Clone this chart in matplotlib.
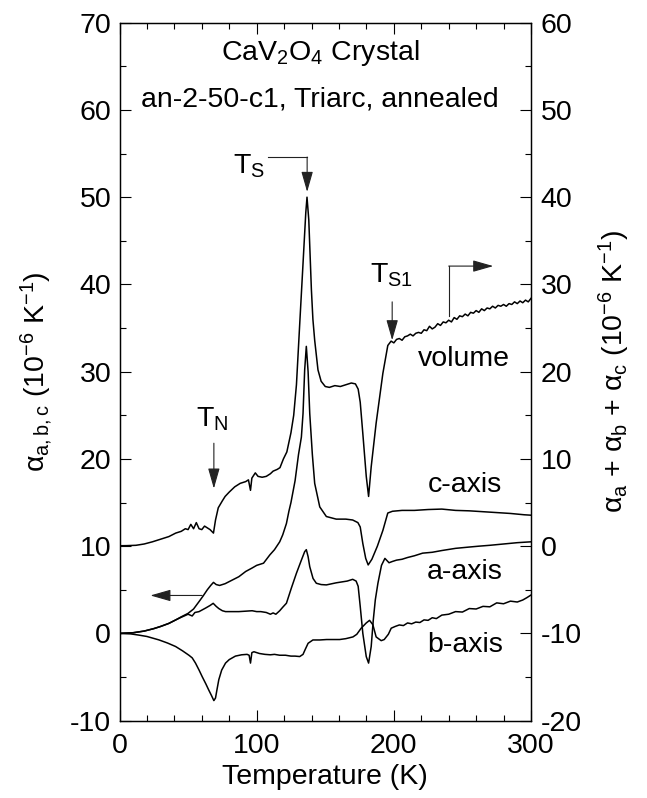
import matplotlib
matplotlib.use("Agg")
import matplotlib.pyplot as plt
from matplotlib.ticker import MultipleLocator

plt.rcParams['font.family'] = ['Liberation Sans', 'DejaVu Sans']
plt.rcParams['mathtext.fontset'] = 'custom'
plt.rcParams['mathtext.rm'] = 'Liberation Sans'
plt.rcParams['mathtext.it'] = 'Liberation Sans:italic'
plt.rcParams['mathtext.default'] = 'regular'
plt.rcParams['axes.unicode_minus'] = False

# ---------------- data ----------------
# volume: alpha_a + alpha_b + alpha_c, right axis units (1e-6 /K)
T_vol = [0, 5, 12, 18, 24, 30, 36, 41, 45, 48, 50, 52, 54, 56, 58, 60, 62, 64, 66, 68.5,
         70, 72, 75, 77, 80, 84, 88, 92, 94, 95.5, 96.5, 99, 101, 104, 107, 110, 112, 115, 117,
         119.5, 122, 125, 127, 129, 131.4, 133.8, 135.8, 136.7, 138, 139.9, 141, 142.3, 144.7,
         147, 150, 153, 157, 161, 165, 169, 172, 174, 175.5, 177.4, 179.9, 181.6, 183.5, 187.1,
         192, 195.6, 198, 200, 202, 204, 206, 208, 210, 212, 214, 216, 218, 220, 222, 224, 226,
         228, 230, 232, 234, 236, 238, 240, 242, 244, 246, 248, 250, 252, 254, 256, 258, 260,
         262, 264, 266, 268, 270, 272, 274, 276, 278, 280, 282, 284, 286, 288, 290, 292, 294,
         296, 298, 300]
vol = [0.05, 0.06, 0.1, 0.25, 0.5, 0.8, 1.1, 1.5, 1.7, 2.0, 1.9, 2.5, 2.0, 2.7, 2.0, 1.9, 2.3, 2.1, 1.9, 1.5,
       3.0, 4.4, 5.2, 5.7, 6.2, 6.8, 7.2, 7.4, 7.6, 6.4, 7.8, 8.4, 8.0, 7.9, 8.0, 8.3, 8.6, 8.8, 9.0,
       10.0, 10.8, 13.0, 15.0, 18.5, 25.5, 32.4, 38.2, 40.0, 37.4, 29.4, 26.0, 23.6, 20.2,
       18.9, 18.3, 18.2, 18.4, 18.3, 18.5, 18.7, 18.6, 18.0, 16.5, 12.9, 8.0, 5.7, 9.1, 14.1,
       19.8, 23.0, 23.5, 23.3, 23.7, 23.8, 23.6, 24.0, 24.1, 24.3, 24.1, 24.4, 24.5, 24.4, 24.8, 24.7, 25.2,
       24.9, 25.1, 25.5, 25.3, 25.7, 25.6, 25.9, 25.7, 26.2, 26.0, 26.4, 26.3, 26.6, 26.4, 26.8, 26.7, 27.0,
       26.8, 27.2, 27.0, 27.3, 27.2, 27.5, 27.3, 27.6, 27.5, 27.7, 27.5, 27.8, 27.7, 28.0, 27.8, 28.1, 27.9,
       28.2, 28.0, 28.4]

# c-axis (left axis)
T_c = [0, 10, 18, 25, 30, 36, 41, 45, 50, 54, 58, 61, 64, 66.5, 68.5, 70.5, 73, 77, 82, 87, 92,
       96.7, 100, 105, 109.6, 113, 116.8, 119, 121.7, 123.5, 125, 128, 130.5, 132.6, 133.8, 135,
       136.2, 137.5, 138.7, 140.6, 142.3, 146, 150.8, 158, 165, 170, 173.8, 175.5, 177.4, 179.5,
       181.3, 184, 188, 192, 195.6, 199, 206, 215, 225, 235, 245, 255, 265, 275, 285, 295, 300]
c_axis = [0, 0.08, 0.27, 0.55, 0.8, 1.15, 1.55, 1.9, 2.3, 2.8, 3.65, 4.3, 5.0, 5.5, 5.85, 5.6, 5.5, 5.7, 6.1, 6.5, 7.1,
          7.5, 7.8, 8.05, 9.0, 9.6, 10.5, 11.3, 12.6, 14.0, 15.0, 17.5, 20.5, 22.5, 25.2, 30.2,
          32.9, 30.0, 25.2, 20.5, 17.2, 14.5, 13.4, 13.1, 13.1, 13.0, 12.7, 12.2, 10.3, 8.6,
          7.85, 8.5, 10.0, 11.8, 13.8, 14.0, 14.1, 14.1, 14.2, 14.25, 14.1, 14.05, 13.95, 13.85, 13.75, 13.6, 13.55]

# a-axis (left axis)
T_a = [0, 10, 18, 25, 30, 36, 41, 45, 50, 53, 55, 58, 62.7, 66, 68.3, 70.5, 72.4, 75, 77.3, 82, 87,
       92, 96.7, 100, 103, 107, 110, 112, 114, 116.8, 119, 121.7, 125.3, 129, 132.6, 135, 136.2,
       137.5, 138.7, 141.1, 143.5, 147, 150.8, 155, 158, 162, 166, 170, 172.5, 174, 175.5, 177.4,
       179.9, 181.6, 183.5, 185, 186.5, 188.4, 191, 193.5, 196.5, 199, 202, 206, 210, 215, 221,
       228, 235, 245, 255, 262, 270, 280, 290, 300]
a_axis = [0, 0.08, 0.27, 0.55, 0.8, 1.15, 1.55, 1.85, 2.2, 2.0, 2.4, 2.5, 2.9, 3.2, 3.45, 3.1, 2.85, 2.6, 2.5, 2.5, 2.5,
          2.55, 2.6, 2.5, 2.5, 2.4, 2.2, 2.35, 2.2, 2.6, 3.0, 3.46, 5.2, 6.9, 8.4, 9.37, 9.6,
          8.8, 7.65, 6.3, 5.75, 5.6, 5.56, 5.7, 5.8, 5.9, 6.0, 6.2, 6.0, 5.4, 3.1, 0.0,
          -2.66, -3.4, -1.5, 1.5, 3.85, 5.75, 7.8, 8.6, 8.1, 8.25, 8.4, 8.5, 8.7, 8.9, 9.2,
          9.3, 9.5, 9.75, 9.9, 10.0, 10.1, 10.25, 10.4, 10.5]

# b-axis (left axis)
T_b = [0, 8, 14, 20, 28.7, 35, 40.9, 46, 50.6, 53, 55.4, 58, 60.3, 63, 65.1, 67, 68.8, 70, 71,
       72.4, 74.5, 77.3, 80, 84.5, 89, 93, 94.5, 95.5, 96.5, 98, 102, 106, 110, 113, 116.8, 121,
       125, 128, 131.4, 133.8, 135.5, 137.5, 141, 146, 151, 156, 160.5, 165, 170.2, 173, 176.2,
       179.9, 182.3, 184.7, 187.1, 190.8, 193, 196, 198.1, 201, 204, 207, 210, 213, 216, 219,
       222, 225, 228, 231, 235, 240, 245, 250, 255, 260, 265, 270, 275, 280, 285, 290, 294, 297, 300]
b_axis = [0, -0.05, -0.19, -0.35, -0.74, -1.1, -1.5, -2.0, -2.5, -2.8, -3.4, -4.2, -4.96, -5.8, -6.5, -7.1, -7.7, -7.4, -6.5,
          -5.3, -4.2, -3.4, -3.0, -2.6, -2.45, -2.4, -2.5, -3.4, -2.2, -2.1, -2.3, -2.4, -2.45, -2.4, -2.5, -2.5,
          -2.6, -2.6, -2.65, -2.4, -1.8, -1.13, -0.75, -0.75, -0.7, -0.7, -0.7, -0.6, -0.4, -0.1, 0.6,
          1.2, 1.5, 1.0, -0.4, -0.83, -0.7, -0.1, 0.6, 0.8, 0.97, 0.9, 1.2, 1.1, 1.3, 1.25,
          1.55, 1.5, 1.8, 1.7, 2.1, 2.2, 2.5, 2.45, 2.85, 2.8, 3.1, 3.05, 3.5, 3.4, 3.7, 3.6, 3.83, 4.1, 4.4]

xlim = (0, 300)
ylim_left = (-10, 70)
ylim_right = (-20, 60)

# ---------------- figure ----------------
fig = plt.figure(figsize=(6.47, 7.98), dpi=100)
ax = fig.add_axes([0.1847, 0.0969, 0.636, 0.8747])
ax2 = ax.twinx()

lw = 1.1
ax.plot(T_c, c_axis, color='k', lw=lw)
ax.plot(T_a, a_axis, color='k', lw=lw)
ax.plot(T_b, b_axis, color='k', lw=lw)
ax2.plot(T_vol, vol, color='k', lw=lw)

ax.set_xlim(*xlim)
ax.set_ylim(*ylim_left)
ax2.set_ylim(*ylim_right)

fs = 20.5
for a in (ax, ax2):
    a.tick_params(which='both', direction='in', width=0.8, labelsize=fs)
    a.tick_params(which='major', length=8)
    a.tick_params(which='minor', length=4.5)
    for s in a.spines.values():
        s.set_linewidth(0.9)
ax.tick_params(axis='x', which='both', top=True, pad=9)
ax.tick_params(axis='y', which='both', right=False, pad=6)
ax2.tick_params(axis='y', which='both', pad=7)
ax.xaxis.set_major_locator(MultipleLocator(100))
ax.xaxis.set_minor_locator(MultipleLocator(20))
ax.yaxis.set_major_locator(MultipleLocator(10))
ax.yaxis.set_minor_locator(MultipleLocator(5))
ax2.yaxis.set_major_locator(MultipleLocator(10))
ax2.yaxis.set_minor_locator(MultipleLocator(5))

ax.set_xlabel('Temperature (K)', fontsize=fs)
ax.xaxis.set_label_coords(0.5, -0.062)
ax.set_ylabel('α$_{a,b,c}$ (10$^{-6}$ K$^{-1}$)', fontsize=fs)
ax.yaxis.set_label_coords(-0.158, 0.5)
ax2.set_ylabel('α$_a$ + α$_b$ + α$_c$ (10$^{-6}$ K$^{-1}$)', fontsize=fs)
ax2.yaxis.set_label_coords(1.16, 0.5)

# titles
ax.text(146, 66.5, 'CaV$_2$O$_4$ Crystal', ha='center', va='center', fontsize=fs)
ax.text(146, 61.2, 'an-2-50-c1, Triarc, annealed', ha='center', va='center', fontsize=fs)

# curve labels
ax.text(251, 31.4, 'volume', ha='center', va='center', fontsize=fs)
ax.text(252, 17.0, 'c-axis', ha='center', va='center', fontsize=fs)
ax.text(252, 7.0, 'a-axis', ha='center', va='center', fontsize=fs)
ax.text(252, -1.3, 'b-axis', ha='center', va='center', fontsize=fs)

# transition labels
ax.text(82.4, 53.6, 'T$_S$', ha='left', va='center', fontsize=fs)
ax.text(55.7, 24.6, 'T$_N$', ha='left', va='center', fontsize=fs)
ax.text(182.3, 41.0, 'T$_{S1}$', ha='left', va='center', fontsize=fs)

acol = '#222222'
astyle = dict(arrowstyle='-|>,head_length=0.7,head_width=0.2', color=acol, lw=0.8,
              shrinkA=0, shrinkB=0, mutation_scale=18)
# T_S arrow
ax.plot([108, 136.8], [54.6, 54.6], color=acol, lw=0.8)
ax.annotate('', xy=(136.8, 50.6), xytext=(136.8, 54.6), arrowprops=astyle)
# T_N arrow
ax.annotate('', xy=(68.8, 16.6), xytext=(68.8, 21.8), arrowprops=astyle)
# T_S1 arrow
ax.annotate('', xy=(198.8, 33.6), xytext=(198.8, 38.0), arrowprops=astyle)
# volume -> right axis
ax.plot([240, 240], [36.4, 42.1], color=acol, lw=0.8)
ax.annotate('', xy=(272.5, 42.1), xytext=(240, 42.1), arrowprops=astyle)
# left axis arrow
ax.annotate('', xy=(22.5, 4.35), xytext=(60.3, 4.35), arrowprops=astyle)

fig.savefig('out.png', dpi=100)
